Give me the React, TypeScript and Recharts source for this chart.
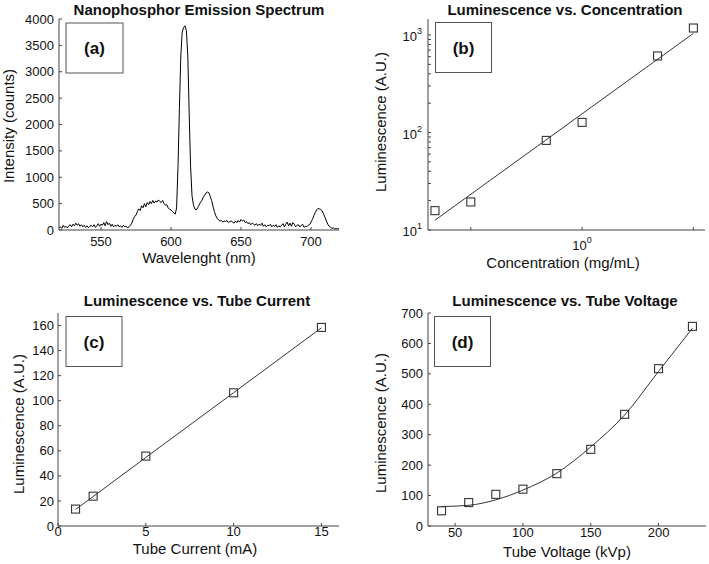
import React from 'react';
import { ComposedChart, Line, Scatter, XAxis, YAxis } from 'recharts';

const FONT = '"Liberation Sans", Arial, Helvetica, sans-serif';
const AXIS = '#444';
const INK = '#111';

// ---------- (a) Nanophosphor emission spectrum ----------
const SPECTRUM_START_NM = 520; // one sample per nm
const spectrumIntensity = [
  40, 60, 30, 90, 50, 70, 40, 80, 100, 60,
  110, 80, 130, 90, 120, 70, 100, 60, 90, 50,
  80, 40, 70, 90, 60, 100, 50, 80, 120, 70,
  110, 90, 140, 80, 160, 100, 130, 70, 110, 60,
  90, 70, 100, 60, 80, 50, 90, 60, 70, 40,
  60, 90, 130, 200, 260, 280, 350, 400, 370, 460,
  420, 500, 440, 520, 480, 540, 500, 560, 510, 550,
  530, 570, 540, 520, 560, 500, 470, 480, 420, 390,
  380, 350, 330, 300, 420, 1200, 2300, 3300, 3750, 3840,
  3870, 3780, 3300, 2200, 1200, 650, 480, 400, 380, 420,
  470, 520, 560, 620, 660, 700, 720, 710, 640, 560,
  450, 350, 270, 220, 190, 170, 180, 150, 170, 160,
  180, 140, 160, 170, 150, 130, 170, 140, 180, 150,
  200, 170, 190, 140, 160, 120, 140, 100, 130, 110,
  90, 120, 80, 110, 90, 130, 70, 100, 60, 90,
  80, 110, 60, 90, 70, 100, 50, 80, 60, 90,
  120, 60, 110, 150, 80, 130, 70, 140, 110, 60,
  90, 100, 60, 80, 110, 50, 70, 60, 90, 100,
  150, 200, 270, 330, 380, 410, 400, 390, 360, 300,
  240, 170, 110, 70, 50, 30, 40, 20, 30, 20,
  25,
];
const aXTicks = [550, 600, 650, 700];
const aYTicks = [0, 500, 1000, 1500, 2000, 2500, 3000, 3500, 4000];

// ---------- (b) Luminescence vs concentration (log-log) ----------
const concentration = [0.4, 0.5, 0.8, 1.0, 1.6, 2.0];
const concLuminescence = [15.8, 19.4, 83, 127, 610, 1180];
const concFitX = [0.4, 2.0];
const concFitY = [12.6, 1040];
const bXTicks = [0.5, 1, 2];
const bYTicks = [10, 20, 30, 40, 50, 60, 70, 80, 90, 100, 200, 300, 400, 500, 600, 700, 800, 900, 1000];

// ---------- (c) Luminescence vs tube current ----------
const tubeCurrent = [1, 2, 5, 10, 15];
const currentLuminescence = [13.5, 23.8, 55.8, 106.3, 158.5];
const currentFit = [13.2, 23.5, 54.7, 106.4, 158.2];
const cXTicks = [0, 5, 10, 15];
const cYTicks = [0, 20, 40, 60, 80, 100, 120, 140, 160];

// ---------- (d) Luminescence vs tube voltage ----------
const tubeVoltage = [40, 60, 80, 100, 125, 150, 175, 200, 225];
const voltageLuminescence = [50, 77, 104, 121, 172, 252, 367, 517, 656];
const voltageFit = [64, 68, 86, 118, 174, 260, 365, 508, 650];
const dXTicks = [50, 100, 150, 200];
const dYTicks = [0, 100, 200, 300, 400, 500, 600, 700];

const spectrum = spectrumIntensity.map((y, i) => ({ x: SPECTRUM_START_NM + i, y }));
const concPts = concentration.map((x, i) => ({ x, y: concLuminescence[i] }));
const concFit = concFitX.map((x, i) => ({ x, y: concFitY[i] }));
const curPts = tubeCurrent.map((x, i) => ({ x, y: currentLuminescence[i] }));
const curFit = tubeCurrent.map((x, i) => ({ x, y: currentFit[i] }));
const volPts = tubeVoltage.map((x, i) => ({ x, y: voltageLuminescence[i] }));
const volFit = tubeVoltage.map((x, i) => ({ x, y: voltageFit[i] }));

const tickStyle = { fontSize: 13, fill: INK, fontFamily: FONT };

const Square = (p: any) => (
  <rect x={p.cx - 4} y={p.cy - 4} width={8} height={8} fill="none" stroke="#333" strokeWidth={1.1} />
);

const isDecade = (v: number) => Math.abs(Math.log10(v) - Math.round(Math.log10(v))) < 1e-6;

const LogYTick = (p: any) => {
  const v = p.payload.value;
  if (!isDecade(v)) return <g />;
  return (
    <text x={p.x} y={p.y} dy={6} textAnchor="end" fontFamily={FONT} fontSize={13} fill={INK}>
      10<tspan dy={-7} fontSize={9}>{Math.round(Math.log10(v))}</tspan>
    </text>
  );
};

const LogXTick = (p: any) => {
  const v = p.payload.value;
  if (!isDecade(v)) return <g />;
  return (
    <text x={p.x} y={p.y} dy={13} textAnchor="middle" fontFamily={FONT} fontSize={13} fill={INK}>
      10<tspan dy={-7} fontSize={9}>{Math.round(Math.log10(v))}</tspan>
    </text>
  );
};

const Tag = ({ x, y, w, h, label }: { x: number; y: number; w: number; h: number; label: string }) => (
  <g>
    <rect x={x} y={y} width={w} height={h} fill="#fff" stroke="#555" strokeWidth={1} />
    <text x={x + w / 2} y={y + h / 2 + 6} textAnchor="middle" fontFamily={FONT} fontWeight="bold" fontSize={17} fill={INK}>
      {label}
    </text>
  </g>
);

const Title = ({ x, y, children }: any) => (
  <text x={x} y={y} textAnchor="middle" fontFamily={FONT} fontWeight="bold" fontSize={15} fill={INK}>
    {children}
  </text>
);

const XTitle = ({ x, y, children }: any) => (
  <text x={x} y={y} textAnchor="middle" fontFamily={FONT} fontSize={15} fill={INK}>
    {children}
  </text>
);

const YTitle = ({ x, y, children }: any) => (
  <text transform={`translate(${x},${y}) rotate(-90)`} textAnchor="middle" fontFamily={FONT} fontSize={15} fill={INK}>
    {children}
  </text>
);

export default function App() {
  return (
    <div style={{ position: 'fixed', left: 0, top: 0, width: 709, height: 564, background: '#fff', overflow: 'hidden' }}>
      {/* (a) */}
      <div style={{ position: 'absolute', left: 0, top: 0 }}>
        <ComposedChart width={354} height={280} margin={{ top: 19, right: 15, bottom: 0, left: 0 }}>
          <XAxis xAxisId="b" dataKey="x" type="number" domain={[520, 720]} allowDataOverflow ticks={aXTicks} interval={0}
            height={50} tickSize={-3} tickMargin={10} tick={tickStyle} stroke={AXIS} />
          <XAxis xAxisId="t" orientation="top" type="number" domain={[520, 720]} allowDataOverflow ticks={aXTicks} interval={0}
            height={0} tickSize={-3} tick={false} stroke={AXIS} />
          <YAxis yAxisId="l" dataKey="y" type="number" domain={[0, 4000]} allowDataOverflow ticks={aYTicks} interval={0}
            width={59} tickSize={-3} tickMargin={8} tick={tickStyle} stroke={AXIS} />
          <YAxis yAxisId="r" orientation="right" type="number" domain={[0, 4000]} allowDataOverflow ticks={aYTicks} interval={0}
            width={0} tickSize={-3} tick={false} stroke={AXIS} />
          <Line xAxisId="b" yAxisId="l" data={spectrum} dataKey="y" type="linear" dot={false} stroke="#000"
            strokeWidth={1} isAnimationActive={false} />
        </ComposedChart>
      </div>

      {/* (b) */}
      <div style={{ position: 'absolute', left: 355, top: 0 }}>
        <ComposedChart width={354} height={280} margin={{ top: 19, right: 4, bottom: 0, left: 0 }}>
          <XAxis xAxisId="b" dataKey="x" type="number" scale="log" domain={[0.383, 2.15]} allowDataOverflow ticks={bXTicks} interval={0}
            height={50} tickSize={-3} tickMargin={10} tick={<LogXTick />} stroke={AXIS} />
          <XAxis xAxisId="t" orientation="top" type="number" scale="log" domain={[0.383, 2.15]} allowDataOverflow ticks={bXTicks} interval={0}
            height={0} tickSize={-3} tick={false} stroke={AXIS} />
          <YAxis yAxisId="l" dataKey="y" type="number" scale="log" domain={[10, 1460]} allowDataOverflow ticks={bYTicks} interval={0}
            width={73} tickSize={-3} tickMargin={9} tick={<LogYTick />} stroke={AXIS} />
          <YAxis yAxisId="r" orientation="right" type="number" scale="log" domain={[10, 1460]} allowDataOverflow ticks={bYTicks} interval={0}
            width={0} tickSize={-3} tick={false} stroke={AXIS} />
          <Line xAxisId="b" yAxisId="l" data={concFit} dataKey="y" type="linear" dot={false} stroke="#333"
            strokeWidth={1} isAnimationActive={false} />
          <Scatter xAxisId="b" yAxisId="l" data={concPts} dataKey="y" shape={Square} isAnimationActive={false} />
        </ComposedChart>
      </div>

      {/* (c) */}
      <div style={{ position: 'absolute', left: 0, top: 280 }}>
        <ComposedChart width={354} height={284} margin={{ top: 33, right: 15, bottom: 0, left: 0 }}>
          <XAxis xAxisId="b" dataKey="x" type="number" domain={[0, 16]} allowDataOverflow ticks={cXTicks} interval={0}
            height={38} tickSize={-3} tickMargin={4} tick={tickStyle} stroke={AXIS} />
          <XAxis xAxisId="t" orientation="top" type="number" domain={[0, 16]} allowDataOverflow ticks={cXTicks} interval={0}
            height={0} tickSize={-3} tick={false} stroke={AXIS} />
          <YAxis yAxisId="l" dataKey="y" type="number" domain={[0, 170]} allowDataOverflow ticks={cYTicks} interval={0}
            width={58} tickSize={-3} tickMargin={7} tick={tickStyle} stroke={AXIS} />
          <YAxis yAxisId="r" orientation="right" type="number" domain={[0, 170]} allowDataOverflow ticks={cYTicks} interval={0}
            width={0} tickSize={-3} tick={false} stroke={AXIS} />
          <Line xAxisId="b" yAxisId="l" data={curFit} dataKey="y" type="linear" dot={false} stroke="#333"
            strokeWidth={1} isAnimationActive={false} />
          <Scatter xAxisId="b" yAxisId="l" data={curPts} dataKey="y" shape={Square} isAnimationActive={false} />
        </ComposedChart>
      </div>

      {/* (d) */}
      <div style={{ position: 'absolute', left: 355, top: 280 }}>
        <ComposedChart width={354} height={284} margin={{ top: 33, right: 3, bottom: 0, left: 0 }}>
          <XAxis xAxisId="b" dataKey="x" type="number" domain={[30, 235]} allowDataOverflow ticks={dXTicks} interval={0}
            height={38} tickSize={-3} tickMargin={5} tick={tickStyle} stroke={AXIS} />
          <XAxis xAxisId="t" orientation="top" type="number" domain={[30, 235]} allowDataOverflow ticks={dXTicks} interval={0}
            height={0} tickSize={-3} tick={false} stroke={AXIS} />
          <YAxis yAxisId="l" dataKey="y" type="number" domain={[0, 700]} allowDataOverflow ticks={dYTicks} interval={0}
            width={73} tickSize={-3} tickMargin={8} tick={tickStyle} stroke={AXIS} />
          <YAxis yAxisId="r" orientation="right" type="number" domain={[0, 700]} allowDataOverflow ticks={dYTicks} interval={0}
            width={0} tickSize={-3} tick={false} stroke={AXIS} />
          <Line xAxisId="b" yAxisId="l" data={volFit} dataKey="y" type="monotone" dot={false} stroke="#333"
            strokeWidth={1} isAnimationActive={false} />
          <Scatter xAxisId="b" yAxisId="l" data={volPts} dataKey="y" shape={Square} isAnimationActive={false} />
        </ComposedChart>
      </div>

      {/* titles, axis titles, panel tags */}
      <svg width={709} height={564} style={{ position: 'absolute', left: 0, top: 0, pointerEvents: 'none' }}>
        <Title x={199} y={15}>Nanophosphor Emission Spectrum</Title>
        <Title x={565} y={15}>Luminescence vs. Concentration</Title>
        <Title x={197} y={306}>Luminescence vs. Tube Current</Title>
        <Title x={565} y={306}>Luminescence vs. Tube Voltage</Title>

        <XTitle x={199} y={263}>Wavelenght (nm)</XTitle>
        <XTitle x={563} y={268}>Concentration (mg/mL)</XTitle>
        <XTitle x={195} y={554}>Tube Current (mA)</XTitle>
        <XTitle x={567} y={557}>Tube Voltage (kVp)</XTitle>

        <YTitle x={14} y={126}>Intensity (counts)</YTitle>
        <YTitle x={386} y={122}>Luminescence (A.U.)</YTitle>
        <YTitle x={24} y={424}>Luminescence (A.U.)</YTitle>
        <YTitle x={386} y={423}>Luminescence (A.U.)</YTitle>

        <Tag x={66} y={23} w={57} h={50} label="(a)" />
        <Tag x={435.5} y={22.5} w={56} h={50} label="(b)" />
        <Tag x={66} y={316.5} w={56} h={50} label="(c)" />
        <Tag x={434.5} y={316.5} w={56} h={50} label="(d)" />
      </svg>
    </div>
  );
}
